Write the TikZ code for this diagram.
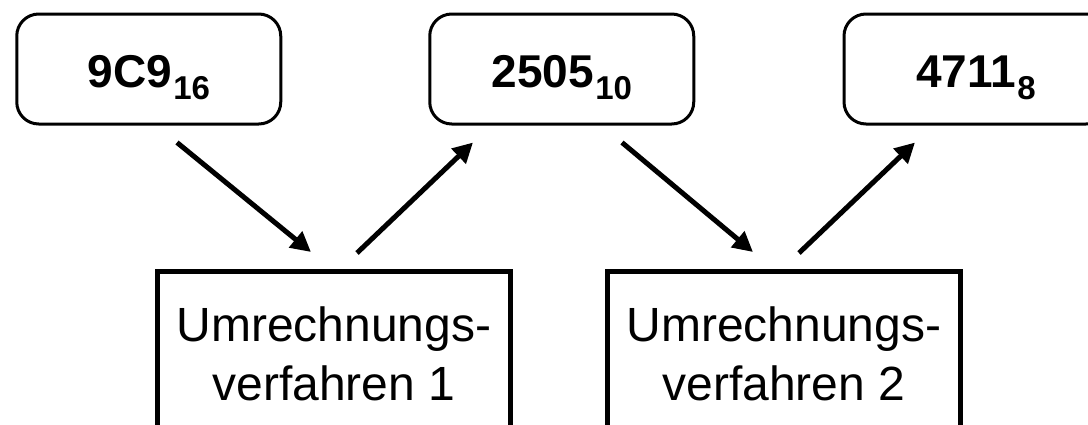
\documentclass[tikz,border=0pt]{standalone}
\usepackage{fontspec}
\setmainfont{Liberation Sans}
\usetikzlibrary{arrows.meta}

\tikzset{
  numbox/.style={draw, line width=3pt, rounded corners=22pt,
    minimum width=264pt, minimum height=110pt, inner sep=0pt,
    text height=45pt, text depth=8pt,
    font=\fontsize{46}{52}\selectfont\bfseries},
  procbox/.style={draw, line width=5pt, anchor=north,
    minimum width=353pt, inner xsep=0pt, inner ysep=35pt, align=center,
    font=\fontsize{48}{59}\selectfont},
  conv/.style={line width=5pt, -{Triangle[length=20pt,width=20pt]}}
}
% base of a number, set as a lowered subscript
\newcommand\numbase[1]{\kern1.5pt\raisebox{-12pt}{\fontsize{33}{34}\selectfont #1}}

\begin{document}
\begin{tikzpicture}[x=1pt,y=1pt]
  \useasboundingbox (0,0) rectangle (1088,-424);
  \clip (0,0) rectangle (1088,-424);

  % numbers in their bases
  \node[numbox] (b1) at (148.75,-69) {9C9\numbase{16}};
  \node[numbox] (b2) at (561.75,-69) {2505\numbase{10}};
  \node[numbox] (b3) at (976,-69)    {4711\numbase{8}};

  % conversion procedures
  \node[procbox] (m1) at (334,-269) {Umrechnungs-\\verfahren 1\rule[-40pt]{0pt}{0pt}};
  \node[procbox] (m2) at (784,-269) {Umrechnungs-\\verfahren 2\rule[-40pt]{0pt}{0pt}};

  % flow through the procedures
  \draw[conv] ([shift={(28.25,-17)}]b1.south) -- ([shift={(-23,17)}]m1.north);
  \draw[conv] ([shift={(23,16)}]m1.north) -- ([shift={(-88.75,-17)}]b2.south);
  \draw[conv] ([shift={(60.25,-17)}]b2.south) -- ([shift={(-31,17)}]m2.north);
  \draw[conv] ([shift={(15,16)}]m2.north) -- ([shift={(-61,-17)}]b3.south);
\end{tikzpicture}
\end{document}
